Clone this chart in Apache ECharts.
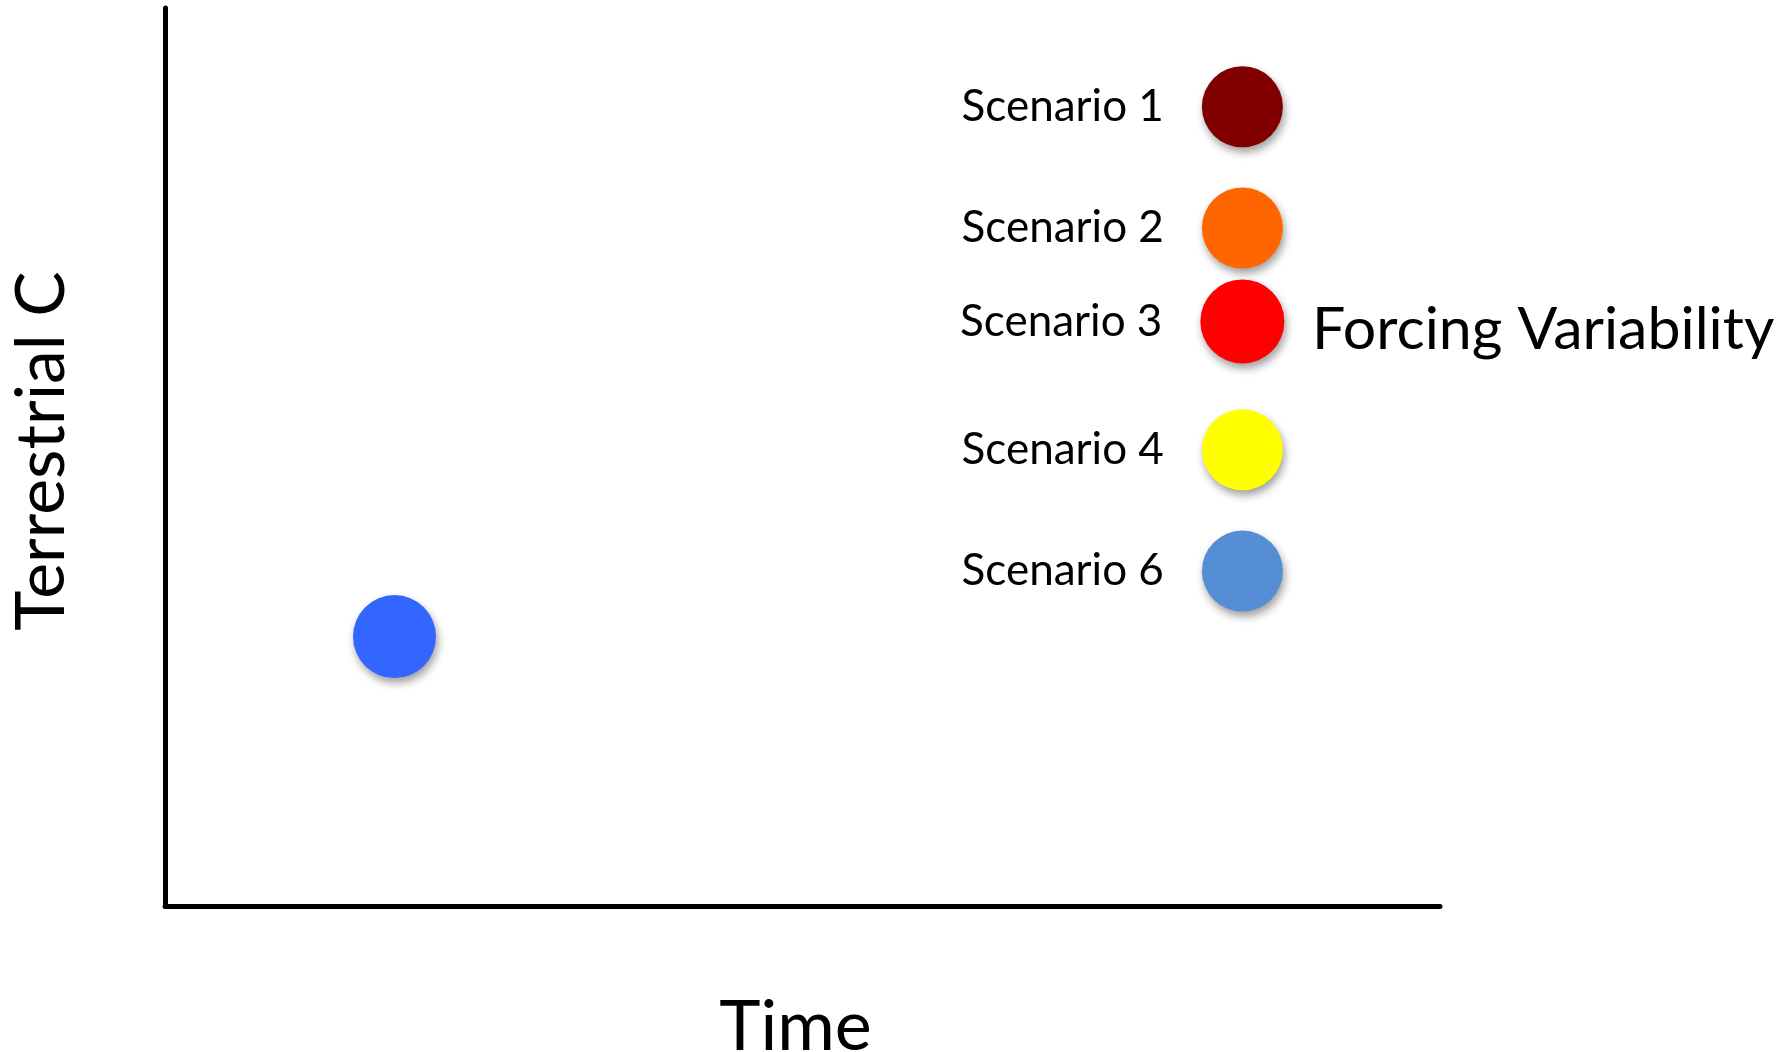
<!DOCTYPE html>
<html><head><meta charset="utf-8">
<script src="https://cdn.jsdelivr.net/npm/echarts@6/dist/echarts.min.js"></script>
<style>html,body{margin:0;padding:0;background:#fff}#c{width:1781px;height:1052px}</style>
</head><body><div id="c"></div>
<script>
// ---- data ----
const scenarioNames = ['Scenario 1', 'Scenario 2', 'Scenario 3', 'Scenario 4', 'Scenario 6'];
const scenarioTime = [84.5, 84.5, 84.5, 84.5, 84.5];
const scenarioCarbon = [89, 75.5, 65.1, 50.8, 37.3];
const baselineName = 'Present';
const baselineTime = 18;
const baselineCarbon = 30;
const xTitle = 'Time';
const yTitle = 'Terrestrial C';
const annotation = 'Forcing Variability';

// ---- styles ----
const scenarioColors = ['#800000', '#FF6600', '#FF0000', '#FFFF00', '#558ED5'];
const scenarioSizes = [81, 81, 84, 81, 81];
const baselineColor = '#3366FF';
const FONT = 'Lato';
const shadow = { shadowBlur: 8, shadowColor: 'rgba(0,0,0,0.38)', shadowOffsetX: 2, shadowOffsetY: 5 };

const chart = echarts.init(document.getElementById('c'), null, { renderer: 'canvas' });
const axisCommon = {
  type: 'value', min: 0, max: 100,
  axisLine: { show: true, onZero: false, lineStyle: { color: '#000', width: 5 } },
  axisTick: { show: false }, axisLabel: { show: false }, splitLine: { show: false },
  nameLocation: 'middle'
};
chart.setOption({
  animation: false,
  backgroundColor: '#fff',
  grid: { left: 165, top: 8, right: 341, bottom: 146, containLabel: false, outerBoundsMode: 'none' },
  xAxis: Object.assign({}, axisCommon, {
    name: xTitle, nameGap: 86,
    nameTextStyle: { fontFamily: FONT, fontSize: 70, color: '#000', padding: [0, 14, 0, 0] }
  }),
  yAxis: Object.assign({}, axisCommon, {
    name: yTitle, nameGap: 89,
    nameTextStyle: { fontFamily: FONT, fontSize: 68, color: '#000', padding: [0, 0, 0, 12] }
  }),
  series: [
    {
      type: 'scatter',
      data: [{ name: baselineName, value: [baselineTime, baselineCarbon] }],
      symbolSize: 83,
      itemStyle: Object.assign({ color: baselineColor, opacity: 1 }, shadow),
      label: { show: false }
    },
    {
      type: 'scatter',
      data: scenarioNames.map((n, i) => ({
        name: n,
        value: [scenarioTime[i], scenarioCarbon[i]],
        symbolSize: scenarioSizes[i],
        itemStyle: { color: scenarioColors[i] }
      })),
      itemStyle: Object.assign({ opacity: 1 }, shadow),
      label: {
        show: true, position: 'left', distance: 38, formatter: '{b}',
        fontFamily: FONT, fontSize: 44, color: '#000'
      }
    }
  ],
  graphic: [{
    type: 'text', left: 1312, top: 337 - 37,
    style: { text: annotation, fontFamily: FONT, fontSize: 59, fill: '#000' }
  }]
});
</script></body></html>
